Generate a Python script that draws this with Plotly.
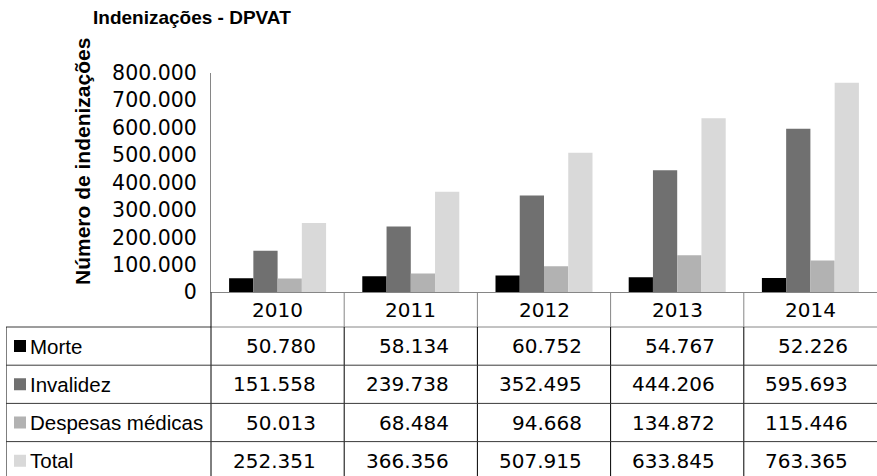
import plotly.graph_objects as go

# ---- data ----
years = ["2010", "2011", "2012", "2013", "2014"]
series_names = ["Morte", "Invalidez", "Despesas médicas", "Total"]
morte = [50780, 58134, 60752, 54767, 52226]
invalidez = [151558, 239738, 352495, 444206, 595693]
despesas = [50013, 68484, 94668, 134872, 115446]
total = [252351, 366356, 507915, 633845, 763365]
y_ticks = [0, 100000, 200000, 300000, 400000, 500000, 600000, 700000, 800000]

title_text = "Indenizações - DPVAT"
y_title = "Número de indenizações"

# ---- style ----
W, H = 877, 476
colors = ["#000000", "#707070", "#b2b2b2", "#d9d9d9"]
FONT = "Liberation Sans, Arial, sans-serif"
NUM_FONT = "DejaVu Sans, Liberation Sans, sans-serif"
BOLD_FONT = "Liberation Sans, Arial, sans-serif"
AXIS_GRAY = "#868686"

plot_left, plot_right = 211, 877
plot_top, plot_bottom = 72.6, 292.3
table_left = 6
col_w = (plot_right - plot_left) / len(years)
row_h = 38.2
header_h = (327 - plot_bottom) / row_h  # header row height in row units


def fmt(v):
    return f"{v:,}".replace(",", ".")


fig = go.Figure()
all_series = [morte, invalidez, despesas, total]
for name, vals, c in zip(series_names, all_series, colors):
    fig.add_trace(go.Bar(x=years, y=vals, name=name, marker=dict(color=c, line=dict(width=0)),
                         showlegend=False, xaxis="x", yaxis="y", hoverinfo="skip"))

legend_w = (plot_left - table_left) / col_w
x2_min = -0.5 - legend_w
y2_bottom = (H - plot_bottom) / row_h

fig.update_layout(
    width=W, height=H, autosize=False,
    margin=dict(l=0, r=0, t=0, b=0, autoexpand=False),
    paper_bgcolor="white", plot_bgcolor="white",
    separators=",.",
    barmode="group", bargap=1 - 97 / col_w, bargroupgap=0,
    font=dict(family=FONT, size=20, color="#000000"),
    xaxis=dict(type="category", categoryarray=years, range=[-0.5, 4.5],
               domain=[plot_left / W, plot_right / W], anchor="y",
               showline=True, linecolor=AXIS_GRAY, linewidth=1,
               showticklabels=False, ticks="", showgrid=False, zeroline=False, fixedrange=True),
    yaxis=dict(range=[0, 800000], domain=[1 - plot_bottom / H, 1 - plot_top / H], anchor="x",
               tickvals=y_ticks, tickformat=",d", ticks="", showgrid=False, zeroline=False,
               showline=True, linecolor=AXIS_GRAY, linewidth=1, fixedrange=True,
               tickfont=dict(size=20.5, family=NUM_FONT, color="#000000"), ticklabelstandoff=9),
    xaxis2=dict(range=[x2_min, 4.5], domain=[table_left / W, 1], anchor="y2", visible=False, fixedrange=True),
    yaxis2=dict(range=[y2_bottom, 0], domain=[0, 1 - plot_bottom / H], anchor="x2", visible=False, fixedrange=True),
)

shapes = []
annotations = []
BLACK = "#000000"
LINE_DARK = "#3a3a3a"

# header row (years)
for i in range(len(years)):
    xl = i - 0.5
    if i > 0:
        shapes.append(dict(type="line", xref="x2", yref="y2", x0=xl, x1=xl, y0=0, y1=header_h,
                           line=dict(color=AXIS_GRAY, width=1)))
    annotations.append(dict(xref="x2", yref="y2", x=i, y=header_h / 2, text=years[i], showarrow=False,
                            xanchor="center", yanchor="middle", font=dict(size=20, family=NUM_FONT)))
shapes.append(dict(type="line", xref="x2", yref="y2", x0=-0.5, x1=4.5, y0=header_h, y1=header_h,
                   line=dict(color=AXIS_GRAY, width=1)))
shapes.append(dict(type="line", xref="x2", yref="y2", x0=x2_min, x1=-0.5, y0=header_h, y1=header_h,
                   line=dict(color=LINE_DARK, width=1)))
# vertical body lines
body_bottom = header_h + len(series_names)
for xv, y0 in [(x2_min, header_h), (-0.5, 0)] + [(i - 0.5, header_h) for i in range(1, len(years))]:
    shapes.append(dict(type="line", xref="x2", yref="y2", x0=xv, x1=xv, y0=y0, y1=body_bottom,
                       line=dict(color=BLACK, width=1)))
# horizontal body lines
for r in range(1, len(series_names) + 1):
    yv = header_h + r
    shapes.append(dict(type="line", xref="x2", yref="y2", x0=x2_min, x1=4.5, y0=yv, y1=yv,
                       line=dict(color=LINE_DARK, width=1)))

sq = 12 / col_w
sq_h = 6 / row_h
for r, (name, vals, c) in enumerate(zip(series_names, all_series, colors)):
    yc = header_h + r + 0.5
    sx0 = x2_min + 8 / col_w
    shapes.append(dict(type="rect", xref="x2", yref="y2", x0=sx0, x1=sx0 + sq, y0=yc - sq_h, y1=yc + sq_h,
                       fillcolor=c, line=dict(width=0)))
    annotations.append(dict(xref="x2", yref="y2", x=x2_min + 22 / col_w, y=yc, text=name, showarrow=False,
                            xanchor="left", yanchor="middle", font=dict(size=20.5, family=FONT)))
    for i, v in enumerate(vals):
        annotations.append(dict(xref="x2", yref="y2", x=i + 0.3, y=yc, text=fmt(v), showarrow=False,
                                xanchor="right", yanchor="middle", font=dict(size=20, family=NUM_FONT)))

# title and y-axis title
annotations.append(dict(xref="paper", yref="paper", x=91 / W, y=1 - 5 / H, text="<b>" + title_text + "</b>",
                        showarrow=False, xanchor="left", yanchor="top",
                        font=dict(family=BOLD_FONT, size=19)))
annotations.append(dict(xref="paper", yref="paper", x=82 / W, y=1 - 162 / H, text="<b>" + y_title + "</b>",
                        showarrow=False, xanchor="center", yanchor="middle", textangle=-90,
                        font=dict(family=BOLD_FONT, size=21)))

fig.update_layout(shapes=shapes, annotations=annotations)
fig.write_html(
    "out.html",
    config={"displayModeBar": False, "staticPlot": True},
    post_script=(
        "document.body.style.margin='0';document.body.style.overflow='hidden';"
        "var gd=document.getElementById('{plot_id}');"
        "Plotly.relayout(gd,{width:877,height:476});"
    ),
)
